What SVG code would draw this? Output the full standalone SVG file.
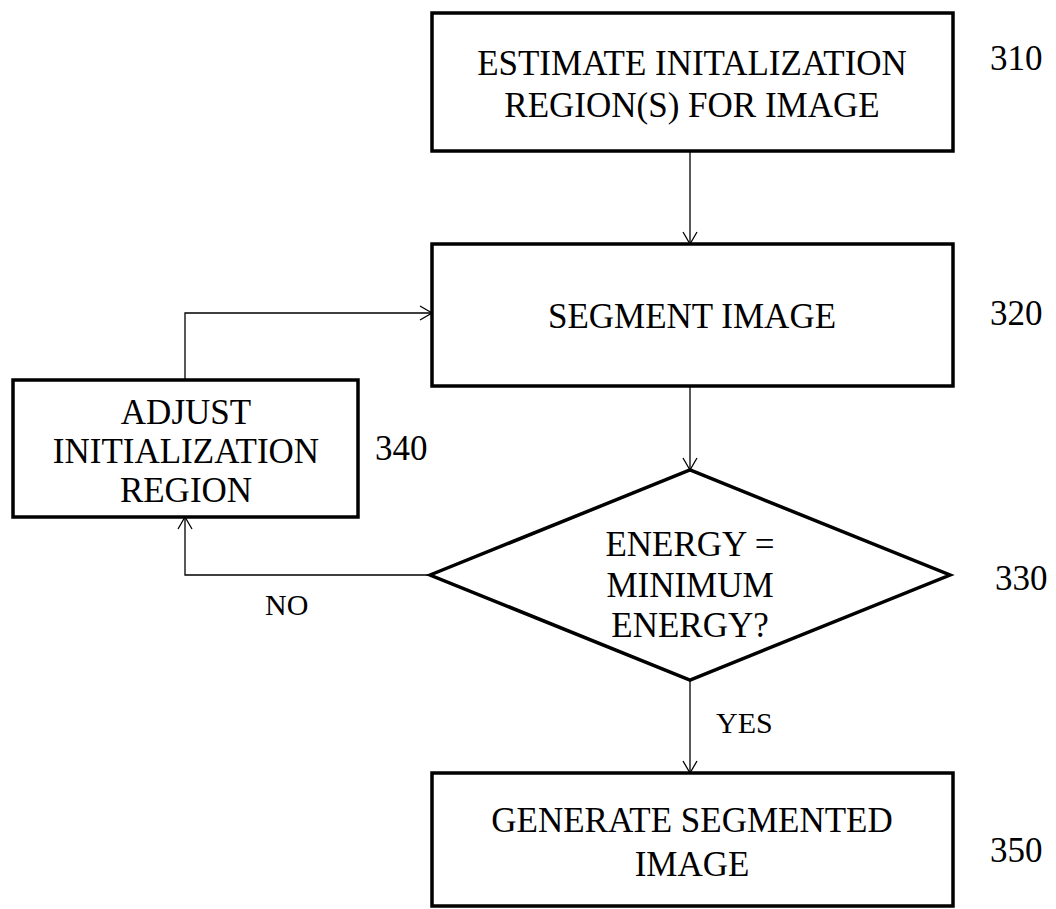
<svg xmlns="http://www.w3.org/2000/svg" width="1056" height="909" viewBox="0 0 1056 909">
<style>
.box{fill:#fff;stroke:#000;stroke-width:3.5}
.t{font-family:"Liberation Serif","Times New Roman",serif;font-size:35px;fill:#000;text-anchor:middle}
.n{font-family:"Liberation Serif","Times New Roman",serif;font-size:35px;fill:#000}
.s{font-family:"Liberation Serif","Times New Roman",serif;font-size:30px;fill:#000}
.c{fill:none;stroke:#000;stroke-width:1.3}
</style>
<defs>
<marker id="arr" markerWidth="16" markerHeight="16" refX="13" refY="8" orient="auto" markerUnits="userSpaceOnUse">
<path d="M1,1 L13,8 L1,15" fill="none" stroke="#000" stroke-width="1.3"/>
</marker>
</defs>
<rect width="1056" height="909" fill="#fff"/>
<g id="connectors">
<line class="c" x1="690" y1="151" x2="690" y2="244" marker-end="url(#arr)"/>
<line class="c" x1="690" y1="386" x2="690" y2="470" marker-end="url(#arr)"/>
<line class="c" x1="690" y1="680" x2="690" y2="773" marker-end="url(#arr)"/>
<polyline class="c" points="430,575 185,575 185,517" marker-end="url(#arr)"/>
<polyline class="c" points="185,380 185,313 432,313" marker-end="url(#arr)"/>
<text class="s" x="265" y="615">NO</text>
<text class="s" x="716" y="733">YES</text>
</g>
<g id="n310">
<rect class="box" x="432" y="13" width="521" height="138"/>
<text class="t" x="692" y="75">ESTIMATE INITALIZATION</text>
<text class="t" x="692" y="117">REGION(S) FOR IMAGE</text>
<text class="n" x="990" y="70">310</text>
</g>
<g id="n320">
<rect class="box" x="432" y="244" width="521" height="142"/>
<text class="t" x="692" y="328">SEGMENT IMAGE</text>
<text class="n" x="990" y="325">320</text>
</g>
<g id="n330">
<polygon class="box" points="430,575 690,470 950,575 690,680"/>
<text class="t" x="690" y="556">ENERGY =</text>
<text class="t" x="690" y="597">MINIMUM</text>
<text class="t" x="690" y="637">ENERGY?</text>
<text class="n" x="995" y="590">330</text>
</g>
<g id="n340">
<rect class="box" x="13" y="380" width="345" height="137"/>
<text class="t" x="186" y="424">ADJUST</text>
<text class="t" x="186" y="463">INITIALIZATION</text>
<text class="t" x="186" y="502">REGION</text>
<text class="n" x="375" y="460">340</text>
</g>
<g id="n350">
<rect class="box" x="432" y="773" width="521" height="133"/>
<text class="t" x="692" y="832">GENERATE SEGMENTED</text>
<text class="t" x="692" y="876">IMAGE</text>
<text class="n" x="990" y="862">350</text>
</g>
</svg>
